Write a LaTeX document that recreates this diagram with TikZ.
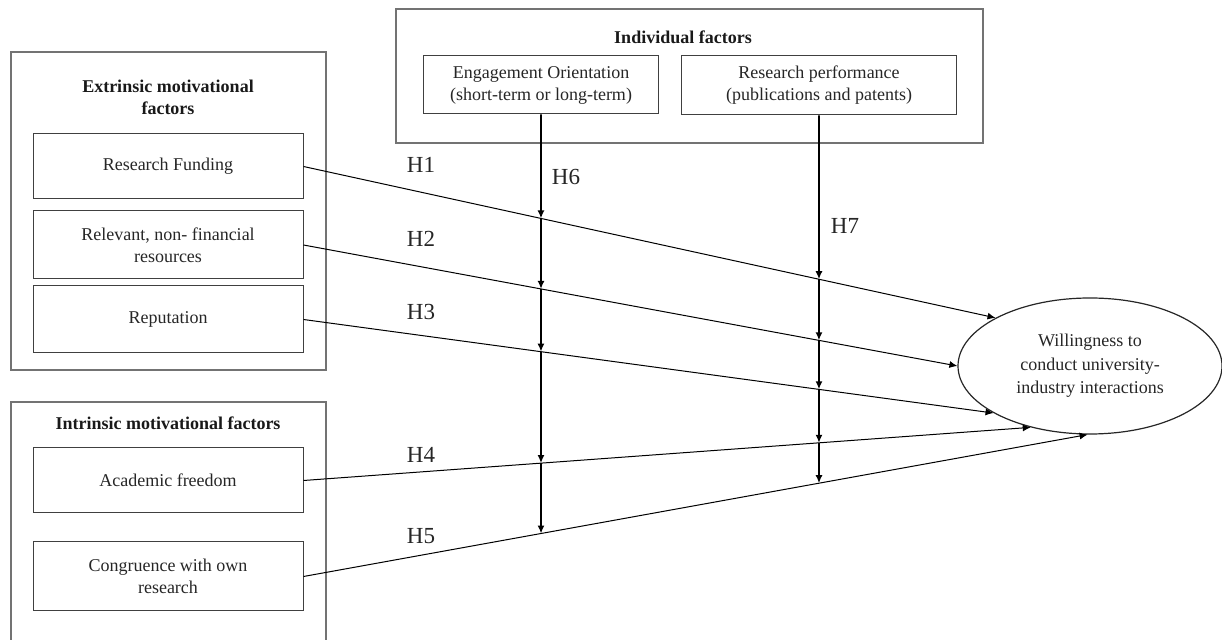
\documentclass[tikz,border=0pt]{standalone}
\usepackage{fontspec}
\setmainfont{Liberation Serif}
\usetikzlibrary{arrows.meta, shapes.geometric}

\begin{document}
\begin{tikzpicture}[x=0.5pt,y=-0.5pt,>={Latex[length=4pt,width=3.5pt]}]
  \tikzstyle{frame}=[draw=black!55, line width=0.6pt, inner sep=0pt]
  \tikzstyle{box}=[draw=black!75, line width=0.5pt, align=center, inner sep=0pt,
                   font=\fontsize{9}{11}\selectfont, text=black!85]
  \tikzstyle{title}=[align=center, font=\fontsize{9}{11}\selectfont\bfseries, text=black!90]
  \tikzstyle{hyp}=[font=\fontsize{11.5}{13}\selectfont, text=black!85]

  \useasboundingbox (0,0) rectangle (1222,640);

  % group frames
  \node[frame, minimum width=157.5pt, minimum height=159pt](ext) at (168.5,211) {};
  \node[frame, minimum width=157.5pt, minimum height=130pt](int) at (168.5,532) {};
  \node[frame, minimum width=293.5pt, minimum height=67pt](ind) at (689.5,76) {};

  \node[title](extt) at (168,97) {Extrinsic motivational\\factors};
  \node[title](intt) at (168,423) {Intrinsic motivational factors};
  \node[title](indt) at (683,37) {Individual factors};

  % factors
  \node[box, minimum width=135pt, minimum height=32.5pt](fund) at (168,166.5) {Research Funding};
  \node[box, minimum width=135pt, minimum height=34pt](res) at (168,245) {Relevant, non- financial\\resources};
  \node[box, minimum width=135pt, minimum height=33.5pt](rep) at (168,319.5) {Reputation};
  \node[box, minimum width=135pt, minimum height=32.5pt](acad) at (168,480.5) {Academic freedom};
  \node[box, minimum width=135pt, minimum height=34.5pt](cong) at (168,576.5) {Congruence with own\\research};
  \node[box, minimum width=117.5pt, minimum height=29pt](eng) at (541,85) {Engagement Orientation\\(short-term or long-term)};
  \node[box, minimum width=137.5pt, minimum height=29.5pt](perf) at (819,85.5) {Research performance\\(publications and patents)};

  \node[draw=black!85, line width=0.6pt, ellipse, minimum width=132pt, minimum height=68pt,
        inner sep=0pt, align=center, font=\fontsize{9}{11.75}\selectfont, text=black!85]
        (will) at (1090,366) {Willingness to\\conduct university-\\industry interactions};

  % direct effects
  \path[->, line width=0.5pt]
  (fund.east) edge (will.153)
  (res.east)  edge (will.west)
  (rep.east)  edge (will.206)
  (acad.east) edge (will.226)
  (cong.east) edge (will.268);

  % moderators
  \coordinate (engb) at (541,640);
  \coordinate (perfb) at (819,640);
  \path (intersection of eng.south--engb and fund.east--will.153) coordinate (m1);
  \path (intersection of eng.south--engb and res.east--will.west) coordinate (m2);
  \path (intersection of eng.south--engb and rep.east--will.206) coordinate (m3);
  \path (intersection of eng.south--engb and acad.east--will.226) coordinate (m4);
  \path (intersection of eng.south--engb and cong.east--will.268) coordinate (m5);
  \path (intersection of perf.south--perfb and fund.east--will.153) coordinate (n1);
  \path (intersection of perf.south--perfb and res.east--will.west) coordinate (n2);
  \path (intersection of perf.south--perfb and rep.east--will.206) coordinate (n3);
  \path (intersection of perf.south--perfb and acad.east--will.226) coordinate (n4);
  \path (intersection of perf.south--perfb and cong.east--will.268) coordinate (n5);

  \path[->, line width=0.9pt]
  (eng) edge (m1)
  (m1)  edge (m2)
  (m2)  edge (m3)
  (m3)  edge (m4)
  (m4)  edge (m5)
  (perf) edge (n1)
  (n1)  edge (n2)
  (n2)  edge (n3)
  (n3)  edge (n4)
  (n4)  edge (n5);

  % hypotheses
  \node[hyp](h1) at (421,165) {H1};
  \node[hyp](h2) at (421,239) {H2};
  \node[hyp](h3) at (421,312) {H3};
  \node[hyp](h4) at (421,455) {H4};
  \node[hyp](h5) at (421,536) {H5};
  \node[hyp](h6) at (566,177) {H6};
  \node[hyp](h7) at (845,226) {H7};
\end{tikzpicture}
\end{document}
